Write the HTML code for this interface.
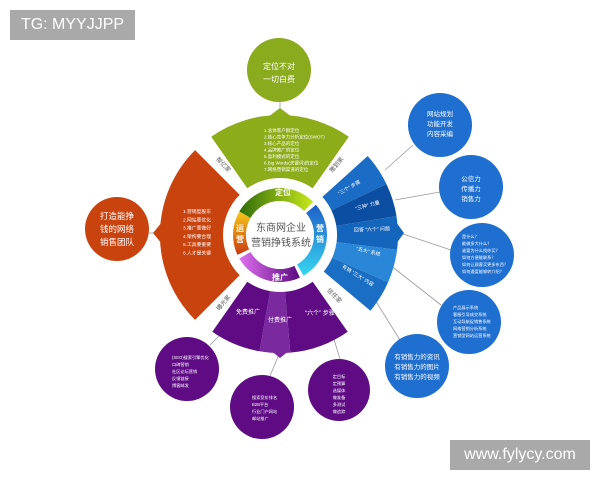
<!DOCTYPE html>
<html><head><meta charset="utf-8"><style>
body{margin:0;background:#fff;width:600px;height:480px;overflow:hidden;font-family:"Liberation Sans","Noto Sans CJK SC",sans-serif}
svg{position:absolute;left:0;top:0}
.wm{position:absolute;background:#a9a9a9;color:#fff;font-family:"Liberation Sans",sans-serif;font-size:16px;display:flex;align-items:center;justify-content:center}
</style></head><body>
<svg id="s" width="600" height="480" viewBox="0 0 600 480" font-family="Liberation Sans, Noto Sans CJK SC, sans-serif">
<defs>
<linearGradient id="gG" x1="0" x2="1"><stop offset="0" stop-color="#2f6b0a"/><stop offset="1" stop-color="#c9e81a"/></linearGradient>
<linearGradient id="gB" x1="0" y1="0" x2="0" y2="1"><stop offset="0" stop-color="#1f5fc8"/><stop offset="1" stop-color="#38d6f0"/></linearGradient>
<linearGradient id="gP" x1="1" x2="0"><stop offset="0" stop-color="#5a0a80"/><stop offset="1" stop-color="#e070f0"/></linearGradient>
<linearGradient id="gO" x1="0" y1="1" x2="0" y2="0"><stop offset="0" stop-color="#c83a10"/><stop offset="1" stop-color="#f6c81a"/></linearGradient>
</defs>
<g id="lines" stroke="#999" stroke-width="0.8" fill="none">
<line x1="385" y1="170" x2="413" y2="145"/>
<line x1="395" y1="200" x2="440" y2="192"/>
<line x1="400" y1="233" x2="451" y2="250"/>
<line x1="390" y1="265" x2="441" y2="305"/>
<line x1="372" y1="295" x2="400" y2="340"/>
<line x1="230" y1="325" x2="210" y2="345"/>
<line x1="280" y1="352" x2="270" y2="376"/>
<line x1="330" y1="326" x2="340" y2="359"/>
<line x1="280" y1="102" x2="280" y2="112"/>
<line x1="149" y1="233" x2="160" y2="233"/>
</g>
<g id="sec"></g>
<circle cx="280" cy="235" r="48" fill="#fff"/>
<g id="ring"></g>
<circle cx="280" cy="235" r="34" fill="#fff"/>
<text x="281" y="231" font-size="10" fill="#555" text-anchor="middle">东商网企业</text>
<text x="281" y="246" font-size="10" fill="#555" text-anchor="middle">营销挣钱系统</text>
<g fill="#fff" font-size="8" font-weight="bold" text-anchor="middle">
<text x="283" y="195">定位</text>
<text x="320" y="231">营</text><text x="320" y="242">销</text>
<text x="280" y="280">推广</text>
<text x="240" y="231">运</text><text x="240" y="242">营</text>
</g>
<g font-size="6" fill="#555" text-anchor="middle">
<text x="222" y="166" transform="rotate(45 222 166)">帮亿家</text>
<text x="338" y="166" transform="rotate(-50 338 166)">策划家</text>
<text x="333" y="297" transform="rotate(45 333 297)">信任家</text>
<text x="225" y="304" transform="rotate(-50 225 304)">曝光家</text>
</g>
<g>
<circle cx="279" cy="70" r="32" fill="#8bab1e"/>
<circle cx="117" cy="229" r="32" fill="#c9430f"/>
<circle cx="440" cy="125" r="32" fill="#1f6fd0"/>
<circle cx="471" cy="187" r="32" fill="#1f6fd0"/>
<circle cx="482" cy="255" r="32" fill="#1f6fd0"/>
<circle cx="469" cy="322" r="32" fill="#1f6fd0"/>
<circle cx="417" cy="366" r="32" fill="#1f6fd0"/>
<circle cx="187" cy="369" r="32" fill="#5e0b84"/>
<circle cx="262" cy="407" r="32" fill="#5e0b84"/>
<circle cx="339" cy="390" r="31" fill="#5e0b84"/>
</g>
<g fill="#fff" text-anchor="middle">
<g font-size="8"><text x="279" y="69">定位不对</text><text x="279" y="82">一切白费</text></g>
<g font-size="8.5"><text x="117" y="219">打造能挣</text><text x="117" y="232">钱的网络</text><text x="117" y="245">销售团队</text></g>
<g font-size="6.5"><text x="440" y="116">网站规划</text><text x="440" y="126">功能开发</text><text x="440" y="136">内容采编</text></g>
<g font-size="6.5"><text x="471" y="181">公信力</text><text x="471" y="191">传播力</text><text x="471" y="201">销售力</text></g>
<g font-size="4.2" text-anchor="start"><text x="462" y="238">是什么？</text><text x="462" y="245">能做多大什么？</text><text x="462" y="252">谁要为什么找你买？</text><text x="462" y="259">如何方便能联系？</text><text x="462" y="266">如何让顾客买更多东西？</text><text x="462" y="273">如何通度能够转介绍？</text></g>
<g font-size="4.2" text-anchor="start"><text x="453" y="309">产品展示系统</text><text x="453" y="316">客服引导成交系统</text><text x="453" y="323">互动导航促销售系统</text><text x="453" y="330">网络营销分析系统</text><text x="453" y="337">营销型网站运营系统</text></g>
<g font-size="6.5"><text x="417" y="359">有销售力的资讯</text><text x="417" y="369">有销售力的图片</text><text x="417" y="379">有销售力的视频</text></g>
<g font-size="4.2" text-anchor="start"><text x="172" y="359">(SEO)搜索引擎优化</text><text x="172" y="366">口碑营销</text><text x="172" y="373">社区论坛营销</text><text x="172" y="380">反馈链接</text><text x="172" y="387">博客邮发</text></g>
<g font-size="4.2" text-anchor="start"><text x="252" y="399">搜索竞价排名</text><text x="252" y="406">B2B平台</text><text x="252" y="413">行业门户网站</text><text x="252" y="420">邮站推广</text></g>
<g font-size="4.2"><text x="339" y="378">定目标</text><text x="339" y="385">定预算</text><text x="339" y="392">选媒体</text><text x="339" y="399">做准备</text><text x="339" y="406">多测试</text><text x="339" y="413">做追踪</text></g>
</g>
<g id="labels" fill="#fff"></g>
</svg>
<div class="wm" style="left:10px;top:10px;width:125px;height:30px">TG: MYYJJPP</div>
<div class="wm" style="left:450px;top:440px;width:140px;height:30px">www.fylycy.com</div>
<script>
var C=[280,235];
function pt(r,a){a=a*Math.PI/180;return (C[0]+r*Math.cos(a)).toFixed(1)+","+(C[1]+r*Math.sin(a)).toFixed(1);}
function sector(r1,r2,a1,a2){return "M"+pt(r2,a1)+" A"+r2+","+r2+" 0 0 1 "+pt(r2,a2)+" L"+pt(r1,a2)+" A"+r1+","+r1+" 0 0 0 "+pt(r1,a1)+"Z";}
var ns="http://www.w3.org/2000/svg",sec=document.getElementById("sec"),ring=document.getElementById("ring");
function P(g,d,f){var p=document.createElementNS(ns,"path");p.setAttribute("d",d);p.setAttribute("fill",f);g.appendChild(p);}
function poly(g,pts,f){var p=document.createElementNS(ns,"polygon");p.setAttribute("points",pts);p.setAttribute("fill",f);g.appendChild(p);}
P(sec,sector(57,120,-125,-55),"#8cac1a");poly(sec,"268,117 292,117 280,108","#8cac1a");
P(sec,sector(57,120,135,225),"#c9430f");poly(sec,"162,222 162,244 153,233","#c9430f");
var bc=["#1a6cc4","#0c4ea2","#1466bc","#2a86d6","#1a6fc4"];
for(var i=0;i<5;i++){P(sec,sector(57,118,-42+i*16.4,-42+(i+1)*16.4),bc[i]);}
poly(sec,"396,222 396,244 404,233","#1466bc");
P(sec,sector(57,118,55,85),"#5e0b84");P(sec,sector(57,118,85,100),"#7a2a9e");P(sec,sector(57,118,100,125),"#5e0b84");
poly(sec,"270,350 290,350 280,358","#7a2a9e");
function arc(a1,a2,f){P(ring,sector(34,47,a1,a2),f);}
arc(-150,-45,"url(#gG)");arc(-40,60,"url(#gB)");arc(65,150,"url(#gP)");arc(155,210,"url(#gO)");
var L=document.getElementById("labels");
function T(x,y,s,fs,rot){var t=document.createElementNS(ns,"text");t.setAttribute("x",x);t.setAttribute("y",y);t.setAttribute("font-size",fs);t.setAttribute("text-anchor","middle");if(rot)t.setAttribute("transform","rotate("+rot+" "+x+" "+y+")");t.textContent=s;L.appendChild(t);}
var gl=["1.总体客户群定位","2.核心竞争力分析定位(SWOT)","3.核心产品的定位","4.品牌推广的定位","5.盈利模式的定位","6.Big Words(关键词)的定位","7.网络营销渠道的定位"];
gl.forEach(function(s,i){var t=document.createElementNS(ns,"text");t.setAttribute("x",264);t.setAttribute("y",132+i*6.5);t.setAttribute("font-size",4.5);t.textContent=s;L.appendChild(t);});
var ol=["1.营销型股东","2.网站要优化","3.推广要做好","4.架构要合理","5.工具要重要","6.人才是关键"];
ol.forEach(function(s,i){var t=document.createElementNS(ns,"text");t.setAttribute("x",183);t.setAttribute("y",213+i*8.3);t.setAttribute("font-size",4.8);t.textContent=s;L.appendChild(t);});
T(350,189,"“三个” 步骤",5,-30);T(368,207,"“三种” 力量",5,-15);T(372,231,"回答 “六个” 问题",5,-2);T(368,253,"“五大” 系统",5,14);T(357,277,"有销 “三大” 内容",5,32);
T(248,314,"免费推广",6);T(280,322,"付费推广",6);T(320,315,"“六个” 步骤",6);
</script>
</body></html>
